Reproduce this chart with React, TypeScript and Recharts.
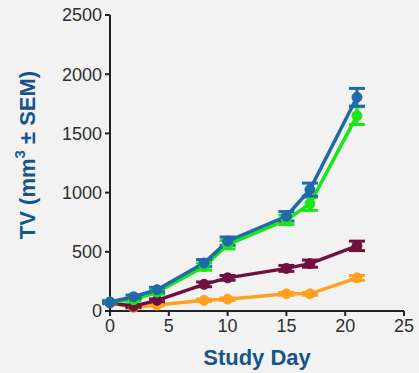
import { LineChart, Line, XAxis, YAxis, ErrorBar, Label } from 'recharts';

const days = [0, 2, 4, 8, 10, 15, 17, 21];

const blueTV = [76, 120, 180, 405, 590, 800, 1025, 1805];
const blueSem = [10, 15, 20, 30, 35, 40, 55, 75];
const greenTV = [76, 95, 160, 375, 560, 770, 905, 1650];
const greenSem = [10, 12, 18, 30, 35, 40, 55, 75];
const maroonTV = [70, 40, 90, 225, 280, 360, 400, 550];
const maroonSem = [8, 10, 12, 20, 20, 25, 30, 40];
const orangeTV = [70, 30, 50, 90, 100, 145, 145, 280];
const orangeSem = [5, 5, 5, 10, 10, 12, 12, 20];

const yTicks = [0, 500, 1000, 1500, 2000, 2500];
const xTicks = [0, 5, 10, 15, 20, 25];

const series = [
  { key: 'orange', color: '#ffa11f' },
  { key: 'maroon', color: '#6e1040' },
  { key: 'green', color: '#19e619' },
  { key: 'blue', color: '#1f6aa8' },
];

const data = days.map((d, i) => ({
  day: d,
  blue: blueTV[i],
  blueErr: blueSem[i],
  green: greenTV[i],
  greenErr: greenSem[i],
  maroon: maroonTV[i],
  maroonErr: maroonSem[i],
  orange: orangeTV[i],
  orangeErr: orangeSem[i],
}));

const font = 'Liberation Sans, Arial, sans-serif';
const tickStyle = { fill: '#2e2e2e', fontSize: 18, fontFamily: font };
const labelColor = '#17548a';

// y label with superscript 3
const YTitle = () => (
  <text
    x={27}
    y={155}
    transform="rotate(-90 27 155)"
    textAnchor="middle"
    dominantBaseline="central"
    fill={labelColor}
    fontSize={22}
    fontWeight="bold"
    fontFamily={font}
  >
    TV (mm
    <tspan fontSize={15} dy={-8}>3</tspan>
    <tspan dy={8}> ± SEM)</tspan>
  </text>
);

export default function App() {
  return (
    <div style={{ position: 'fixed', left: 0, top: 0, width: 419, height: 373, background: '#f2f2f2' }}>
      <LineChart width={419} height={373} data={data} margin={{ top: 15, right: 15, left: 0, bottom: 0 }}>
        <XAxis
          dataKey="day"
          type="number"
          domain={[0, 25]}
          ticks={xTicks}
          height={62}
          stroke="#222"
          strokeWidth={2}
          tickSize={5}
          tickMargin={3}
          tick={tickStyle}
        >
          <Label
            value="Study Day"
            position="insideBottom"
            offset={8}
            style={{ fill: labelColor, fontSize: 22, fontWeight: 'bold', fontFamily: font }}
          />
        </XAxis>
        <YAxis
          type="number"
          domain={[0, 2500]}
          ticks={yTicks}
          width={110}
          stroke="#222"
          strokeWidth={2}
          tickSize={5}
          tickMargin={3}
          tick={tickStyle}
        >
          <Label content={<YTitle />} />
        </YAxis>
        {series.map((s) => (
          <Line
            key={s.key}
            dataKey={s.key}
            stroke={s.color}
            strokeWidth={3.5}
            dot={{ r: 5, fill: s.color, stroke: s.color, strokeWidth: 1 }}
            isAnimationActive={false}
          >
            <ErrorBar dataKey={`${s.key}Err`} direction="y" width={8} strokeWidth={3} stroke={s.color} />
          </Line>
        ))}
      </LineChart>
    </div>
  );
}
